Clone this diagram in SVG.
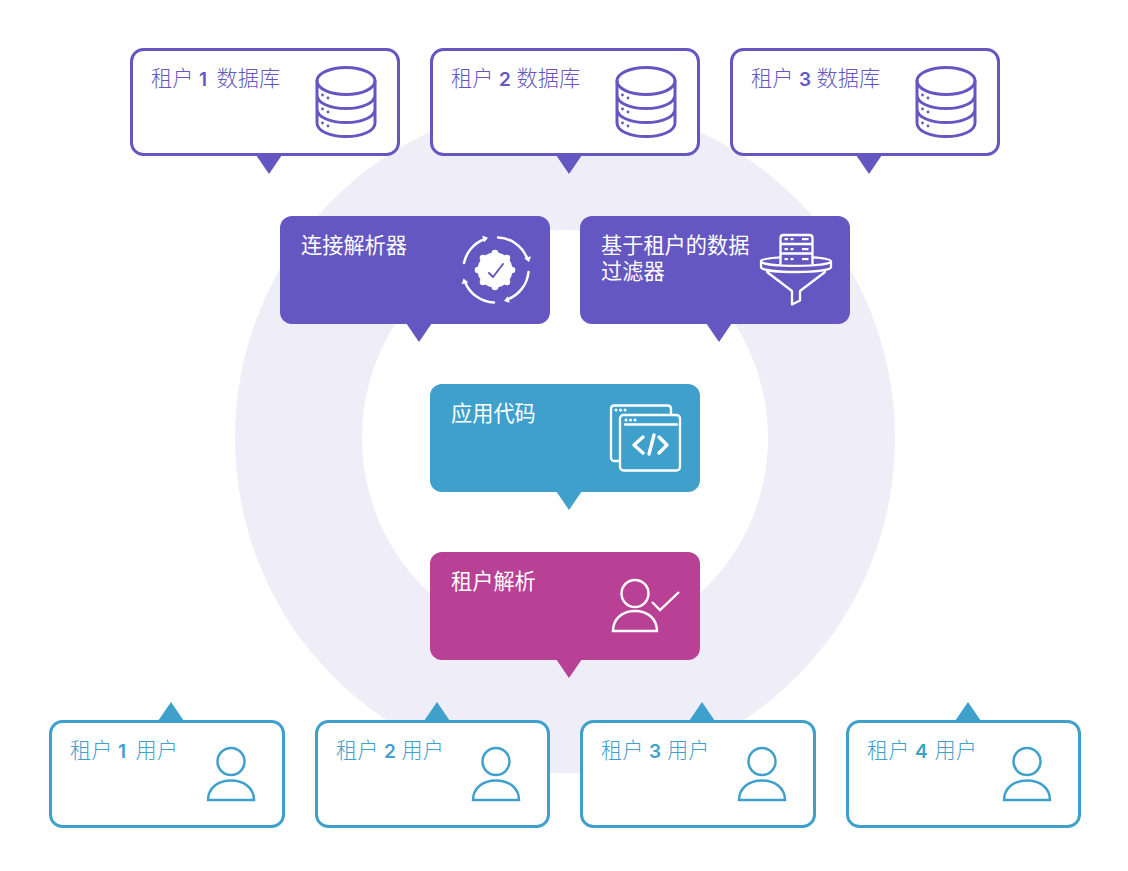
<svg xmlns="http://www.w3.org/2000/svg" width="1128" height="871" viewBox="0 0 1128 871">
<style>
text{font-family:"Noto Sans CJK SC","Noto Sans",sans-serif;font-size:21.2px;font-weight:300}
.w{font-weight:400;fill:#fff}
.n{font-family:"Inter","Noto Sans",sans-serif;font-weight:600;font-size:19px}
.p{fill:#6557c1}.b{fill:#3fa0cb}.f{fill:#fff}
.op{fill:#fff;stroke:#6557c1;stroke-width:3}
.ob{fill:#fff;stroke:#3fa0cb;stroke-width:3}
.i{fill:none;stroke-linecap:round;stroke-linejoin:round}
</style>
<defs>
<symbol id="db" overflow="visible">
<g class="i" stroke="#6557c1" stroke-width="3">
<ellipse cx="29" cy="14" rx="29" ry="13.5"/>
<path d="M0 14V56C0 64 13 69.500 29 69.500S58 64 58 56V14M0 28C0 36 13 41.500 29 41.500S58 36 58 28M0 42C0 50 13 55.500 29 55.500S58 50 58 42"/>
</g>
<g class="p"><circle cx="5.500" cy="28" r="1.400"/><circle cx="11" cy="31" r="1.400"/><circle cx="5.500" cy="42" r="1.400"/><circle cx="11" cy="45" r="1.400"/><circle cx="5.500" cy="56" r="1.400"/><circle cx="11" cy="59" r="1.400"/></g>
</symbol>
<symbol id="user" overflow="visible">
<g fill="none" stroke="#3fa0cb" stroke-width="2.500">
<circle cx="24" cy="14.500" r="13.500"/>
<path d="M1 53C1 41 11 33.500 24 33.500S47 41 47 53Z"/>
</g>
</symbol>
</defs>
<path fill="#efedf8" fill-rule="evenodd" d="M235 438A330 335 0 1 1 895 438A330 335 0 1 1 235 438ZM362 438A203 208 0 1 0 768 438A203 208 0 1 0 362 438Z"/>

<g id="connectors">
<path class="p" d="M256 155H282L269 174Z"/>
<path class="p" d="M556 155H582L569 174Z"/>
<path class="p" d="M856 155H882L869 174Z"/>
<path class="p" d="M406 323H432L419 342Z"/>
<path class="p" d="M706 323H732L719 342Z"/>
<path class="b" d="M556 491H582L569 510Z"/>
<path fill="#b84095" d="M556 659H582L569 678Z"/>
<path class="b" d="M158 721H184L171 702Z"/>
<path class="b" d="M424 721H450L437 702Z"/>
<path class="b" d="M689 721H715L702 702Z"/>
<path class="b" d="M955 721H981L968 702Z"/>
</g>

<g id="db1"><rect class="op" x="131.500" y="49.500" width="267" height="105" rx="12"/>
<text y="86" class="p"><tspan x="151">租户</tspan><tspan class="n" x="199">1</tspan><tspan x="216.500">数据库</tspan></text><use href="#db" x="317" y="67"/></g>
<g id="db2"><rect class="op" x="431.500" y="49.500" width="267" height="105" rx="12"/>
<text y="86" class="p"><tspan x="451">租户</tspan><tspan class="n" x="499">2</tspan><tspan x="516.500">数据库</tspan></text><use href="#db" x="617" y="67"/></g>
<g id="db3"><rect class="op" x="731.500" y="49.500" width="267" height="105" rx="12"/>
<text y="86" class="p"><tspan x="751">租户</tspan><tspan class="n" x="799">3</tspan><tspan x="816.500">数据库</tspan></text><use href="#db" x="917" y="67"/></g>

<g id="resolver"><rect class="p" x="280" y="216" width="270" height="108" rx="12"/>
<text x="301" y="253" class="w">连接解析器</text>
<g class="f"><circle cx="495" cy="270" r="17.500"/><circle cx="512" cy="270" r="3.300"/><circle cx="507" cy="282" r="3.300"/><circle cx="495" cy="287" r="3.300"/><circle cx="483" cy="282" r="3.300"/><circle cx="478" cy="270" r="3.300"/><circle cx="483" cy="258" r="3.300"/><circle cx="495" cy="253" r="3.300"/><circle cx="507" cy="258" r="3.300"/></g>
<path class="i" stroke="#6557c1" stroke-width="2" d="M489 273L493 277L503 264"/>
<g class="i" stroke="#fff" stroke-width="2.500">
<path d="M464 263A32.500 32.500 0 0 1 485 239M498 237.500A32.500 32.500 0 0 1 527 258M528.500 272A32.500 32.500 0 0 1 507 299.500M494 302.500A32.500 32.500 0 0 1 465 282"/>
</g>
<path class="f" d="M488 237.700L484 242.400L482.300 235.600ZM529 262L531 256.200L524.200 258.200ZM504 301L509.800 302.800L507.800 296.200ZM463.500 278.500L468.300 282.300L461.700 284.300Z"/>
</g>

<g id="filter"><rect class="p" x="580" y="216" width="270" height="108" rx="12"/>
<text x="601" y="253" class="w">基于租户的数据</text><text x="601" y="279" class="w">过滤器</text>
<g class="i" stroke="#fff" stroke-width="2.300">
<path d="M780.500 264V238Q780.500 235 783.500 235H809.500Q812.500 235 812.500 238V264M780.500 244H812.500M780.500 253.500H812.500"/>
<path d="M780.500 257.300C769 258 761 259.300 761 261.300V267C761 270 777 272 796 272S831 270 831 267V261.300C831 259.300 823 258 812.500 257.300M761 261.300C761 264 777 265.800 796 265.800S831 264 831 261.300"/>
<path d="M767 272L792 291V304.500L800 300.500V291L825 272"/>
</g>
<g class="f"><rect x="784.500" y="238" width="3.500" height="2.200"/><rect x="790.500" y="238" width="3" height="2.200"/><rect x="802" y="238" width="6.500" height="2.200"/><rect x="784.500" y="248" width="3.500" height="2.200"/><rect x="790.500" y="248" width="3" height="2.200"/><rect x="802" y="248" width="6.500" height="2.200"/><rect x="784.500" y="258" width="3.500" height="2.200"/><rect x="790.500" y="258" width="3" height="2.200"/><rect x="802" y="258" width="6.500" height="2.200"/></g>
</g>

<g id="app"><rect class="b" x="430" y="384" width="270" height="108" rx="12"/>
<text x="451" y="421" class="w">应用代码</text>
<g class="i" stroke="#fff" stroke-width="2.300">
<path d="M671 414V409Q671 405.500 667.500 405.500H614.500Q611 405.500 611 409V457Q611 461 614.500 461H620"/>
<rect x="620" y="415" width="60" height="55.500" rx="3.500"/>
<path d="M625 424.500H677"/>
<path stroke-width="3.400" d="M643 437L634 445L643 453M649 454L654 435M659 437L667 445L659 453"/>
</g>
<g class="f"><circle cx="616" cy="410" r="1.500"/><circle cx="620.500" cy="410" r="1.500"/><circle cx="625" cy="410" r="1.500"/><circle cx="626" cy="420" r="1.500"/><circle cx="630.500" cy="420" r="1.500"/><circle cx="635" cy="420" r="1.500"/></g>
</g>

<g id="tenant-resolve"><rect x="430" y="552" width="270" height="108" rx="12" fill="#b84095"/>
<text x="451" y="589" class="w">租户解析</text>
<g fill="none" stroke="#fff" stroke-width="2.400">
<circle cx="635" cy="593.500" r="13.500"/>
<path d="M613 631C613 619 622 611 635 611S657 619 657 631Z"/>
<path d="M652 602L660 610L679 592"/>
</g>
</g>

<g id="u1"><rect class="ob" x="50.500" y="721.500" width="233" height="105" rx="12"/>
<text y="758" class="b"><tspan x="70">租户</tspan><tspan class="n" x="118">1</tspan><tspan x="135.500">用户</tspan></text><use href="#user" x="207" y="747"/></g>
<g id="u2"><rect class="ob" x="316.500" y="721.500" width="232" height="105" rx="12"/>
<text y="758" class="b"><tspan x="336">租户</tspan><tspan class="n" x="384">2</tspan><tspan x="401.500">用户</tspan></text><use href="#user" x="472" y="747"/></g>
<g id="u3"><rect class="ob" x="581.500" y="721.500" width="233" height="105" rx="12"/>
<text y="758" class="b"><tspan x="601">租户</tspan><tspan class="n" x="649">3</tspan><tspan x="667">用户</tspan></text><use href="#user" x="738" y="747"/></g>
<g id="u4"><rect class="ob" x="847.500" y="721.500" width="232" height="105" rx="12"/>
<text y="758" class="b"><tspan x="867">租户</tspan><tspan class="n" x="915">4</tspan><tspan x="934.500">用户</tspan></text><use href="#user" x="1003" y="747"/></g>
</svg>
